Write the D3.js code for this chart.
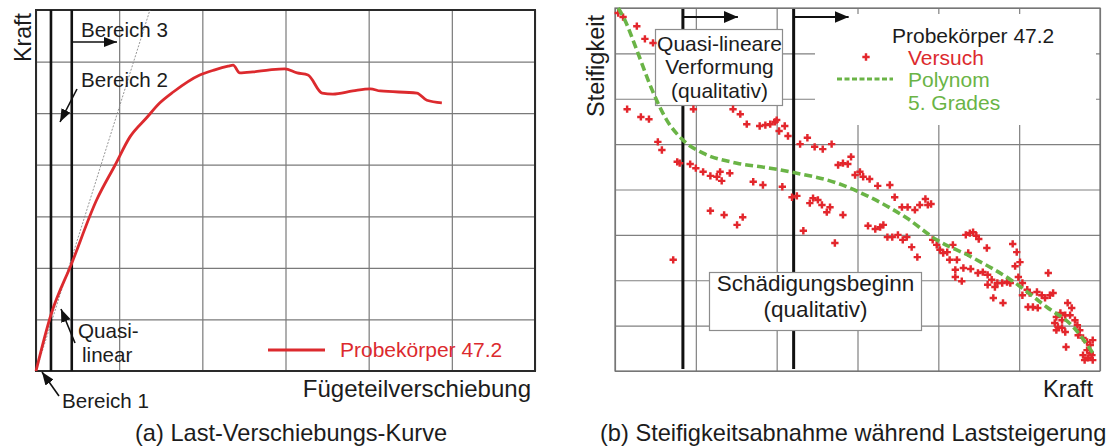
<!DOCTYPE html>
<html>
<head>
<meta charset="utf-8">
<script src="https://cdn.jsdelivr.net/npm/d3@7"></script>
<style>
  html, body { margin: 0; padding: 0; background: #fff; }
  svg { display: block; font-family: "Liberation Sans", Arial, Helvetica, sans-serif; }
</style>
</head>
<body>
<svg id="chart" width="1107" height="448"></svg>
<script>
// ---------- (a) Last-Verschiebungs-Kurve, Probekörper 47.2 (Gittereinheiten) ----------
const lastWeg   = [0, 0.18, 0.43, 0.73, 0.95, 1.13, 1.33, 1.49, 1.65, 1.97, 2.15, 2.31, 2.37, 2.45, 2.61, 2.81, 2.99, 3.14, 3.27, 3.44, 3.57, 3.81, 4.02, 4.14, 4.58, 4.70, 4.88];
const lastKraft = [0, 1.09, 2.09, 3.32, 3.99, 4.54, 4.91, 5.20, 5.41, 5.74, 5.84, 5.91, 5.93, 5.78, 5.80, 5.84, 5.86, 5.78, 5.74, 5.39, 5.37, 5.43, 5.47, 5.43, 5.39, 5.25, 5.20];
// Anfangstangente (quasi-lineares Verhalten)
const tangenteWeg   = [0, 1.37];
const tangenteKraft = [0, 7.0];
// Grenzen der Bereiche 1 | 2 | 3 auf der Verschiebungsachse
const bereichGrenzenA = [0.18, 0.43];

// ---------- (b) Steifigkeit über Kraft ----------
const versuchKraft = [
  0.04,0.10,0.27,0.37,0.47,0.15,0.32,0.42,0.53,0.58,
  0.77,0.80,0.93,1.00,1.09,1.18,1.26,1.30,1.42,1.32,
  0.97,1.46,1.55,1.63,1.79,1.86,1.92,1.98,2.00,2.03,
  2.10,2.14,2.29,2.38,2.47,2.57,2.68,2.76,2.82,2.88,
  2.92,2.97,3.03,3.07,3.15,3.25,3.40,3.46,3.55,3.62,
  3.71,3.77,3.84,3.87,3.91,1.18,1.35,1.51,1.58,1.71,
  1.83,2.07,2.19,2.25,2.33,2.41,2.45,2.51,2.56,2.62,
  2.66,2.82,2.72,0.72,3.13,3.22,3.28,3.32,3.37,3.43,
  3.50,3.56,3.61,3.67,3.74,3.93,3.98,4.02,4.06,4.11,
  4.14,4.18,4.23,4.34,4.39,4.43,4.47,4.50,4.37,4.60,
  4.21,4.31,4.40,4.21,4.29,4.49,4.55,4.61,4.66,4.73,
  4.79,4.85,4.89,4.61,4.70,4.68,4.80,4.92,4.97,5.01,
  4.95,4.99,5.04,5.04,5.10,5.13,5.22,5.28,5.32,5.38,
  5.42,5.36,5.11,5.17,5.23,5.46,5.51,5.60,5.65,5.63,
  5.44,5.48,5.53,5.57,5.46,5.72,5.75,5.73,5.79,5.84,
  5.88,5.58,5.84,5.88,5.79,5.85,5.91,5.81,5.90,5.91,
  5.57,5.69,5.53
];
const versuchSteifigkeit = [
  7.89,7.80,7.60,7.32,7.23,5.77,5.60,5.55,5.05,4.87,
  4.61,4.58,4.56,4.47,4.39,4.30,4.28,4.39,4.36,4.19,
  5.77,5.77,5.66,5.44,5.40,5.42,5.44,5.49,5.53,5.29,
  5.40,5.18,5.00,5.14,4.94,4.89,5.00,4.54,4.58,4.56,
  4.72,4.32,4.39,4.28,4.23,4.08,4.10,3.83,3.61,3.61,
  3.55,3.66,3.79,3.66,3.68,3.53,3.44,3.22,3.39,4.17,
  4.10,4.06,3.83,3.86,3.09,3.70,3.81,3.77,3.66,3.50,
  3.61,3.44,2.82,2.45,3.20,3.13,3.17,3.22,2.95,2.95,
  3.00,2.89,2.95,2.73,2.51,2.89,2.78,2.67,2.60,2.62,
  2.45,2.78,2.45,3.00,3.04,3.06,2.98,2.91,2.60,2.71,
  2.23,2.27,2.25,2.07,1.98,2.16,2.18,2.12,2.01,1.94,
  1.94,1.96,1.94,1.90,1.85,1.61,1.50,2.80,2.62,2.40,
  2.31,2.07,1.94,1.67,1.79,1.72,1.74,1.67,1.61,1.67,
  1.72,2.16,1.41,1.41,1.39,1.19,1.28,1.50,1.39,1.23,
  1.06,0.97,0.95,0.86,0.90,1.01,0.90,0.79,0.73,0.64,
  0.57,0.53,0.46,0.40,0.35,0.29,0.24,0.24,0.35,0.68,
  1.23,1.12,1.12
];
// Ausgleichspolynom 5. Grades
const polyKraft       = [0.04, 0.12, 0.27, 0.46, 0.64, 0.84, 1.09, 1.51, 1.92, 2.25, 2.75, 3.12, 3.61, 3.98, 4.39, 4.92, 5.34, 5.67, 5.91];
const polySteifigkeit = [8.00, 7.74, 7.07, 6.19, 5.53, 5.09, 4.80, 4.58, 4.47, 4.36, 4.14, 3.86, 3.37, 2.89, 2.53, 1.98, 1.41, 0.97, 0.40];
// Grenzen: quasi-lineare Verformung | Schädigungsbeginn
const bereichGrenzenB = [0.84, 2.21];

// ---------- Farben ----------
const ROT = "#dc2a2e", GRUEN = "#6ab446", TEXT = "#1c1c1c";

const svg = d3.select("#chart");
const defs = svg.append("defs");

function pfeilMarker(id, len, wid) {
  defs.append("marker")
    .attr("id", id)
    .attr("viewBox", `0 0 ${len} ${wid}`)
    .attr("refX", len).attr("refY", wid / 2)
    .attr("markerWidth", len).attr("markerHeight", wid)
    .attr("markerUnits", "userSpaceOnUse")
    .attr("orient", "auto")
    .append("path")
    .attr("d", `M0,0 L${len},${wid / 2} L0,${wid} Z`)
    .attr("fill", "#111");
}
pfeilMarker("pfeilA", 13, 10);
pfeilMarker("pfeilB", 14, 12);

function label(g, x, y, s, size, opts = {}) {
  const t = g.append("text")
    .attr("x", x).attr("y", y)
    .attr("font-size", size)
    .attr("fill", opts.fill || TEXT)
    .attr("text-anchor", opts.anchor || "start")
    .text(s);
  if (opts.rotate) {
    t.attr("x", 0).attr("y", 0)
     .attr("transform", `translate(${x},${y}) rotate(${opts.rotate})`);
  }
  return t;
}

function pfeil(g, x1, y1, x2, y2, marker, w) {
  g.append("line")
    .attr("x1", x1).attr("y1", y1).attr("x2", x2).attr("y2", y2)
    .attr("stroke", "#111").attr("stroke-width", w || 1.6)
    .attr("marker-end", `url(#${marker})`);
}

function gitter(g, x, y, nx, ny, farbe) {
  const h = y.range()[0] - y.range()[1];
  const w = x.range()[1] - x.range()[0];
  const gx = g.append("g")
    .attr("transform", `translate(0,${y.range()[0]})`)
    .call(d3.axisBottom(x).ticks(nx).tickSize(-h).tickFormat(""));
  const gy = g.append("g")
    .attr("transform", `translate(${x.range()[0]},0)`)
    .call(d3.axisLeft(y).ticks(ny).tickSize(-w).tickFormat(""));
  [gx, gy].forEach(a => {
    a.select(".domain").remove();
    a.selectAll("line").attr("stroke", farbe).attr("stroke-width", 1.2);
  });
}

// =================== (a) ===================
const gA = svg.append("g");
const xA = d3.scaleLinear().domain([0, 6]).range([36, 535]);
const yA = d3.scaleLinear().domain([0, 7]).range([371, 10]);

gitter(gA, xA, yA, 6, 7, "#7a7a7a");

gA.append("rect")
  .attr("x", xA(0)).attr("y", yA(7))
  .attr("width", xA(6) - xA(0)).attr("height", yA(0) - yA(7))
  .attr("fill", "none").attr("stroke", "#2a2a2a").attr("stroke-width", 2);

// Tangente
gA.append("path")
  .datum(d3.zip(tangenteWeg, tangenteKraft))
  .attr("d", d3.line().x(d => xA(d[0])).y(d => yA(d[1])))
  .attr("stroke", "#8a8a8a").attr("stroke-width", 0.9)
  .attr("stroke-dasharray", "2,1.5").attr("fill", "none");

// Bereichsgrenzen
gA.selectAll("line.grenze")
  .data(bereichGrenzenA).enter().append("line")
  .attr("class", "grenze")
  .attr("x1", d => xA(d)).attr("x2", d => xA(d))
  .attr("y1", yA(7)).attr("y2", yA(0))
  .attr("stroke", "#111").attr("stroke-width", 2.6);

// Messkurve
gA.append("path")
  .datum(d3.zip(lastWeg, lastKraft))
  .attr("d", d3.line().x(d => xA(d[0])).y(d => yA(d[1])).curve(d3.curveMonotoneX))
  .attr("stroke", ROT).attr("stroke-width", 2.8)
  .attr("stroke-linejoin", "round").attr("fill", "none");

// Beschriftungen
label(gA, 31, 37.5, "Kraft", 23.2, { rotate: -90, anchor: "middle" });
label(gA, 81, 36.5, "Bereich 3", 20.6);
pfeil(gA, xA(bereichGrenzenA[1]), 42, 117, 42, "pfeilA", 1.6);
label(gA, 81, 87, "Bereich 2", 20.6);
pfeil(gA, 77, 89, 60, 122, "pfeilA", 1.6);
label(gA, 78, 338, "Quasi-", 20.6);
label(gA, 82, 362, "linear", 20.6);
pfeil(gA, 75, 343, 61, 309, "pfeilA", 1.6);
label(gA, 62, 408, "Bereich 1", 20.6);
pfeil(gA, 59, 396, 42, 372, "pfeilA", 1.6);

// Legende
gA.append("line")
  .attr("x1", 268).attr("x2", 325).attr("y1", 350).attr("y2", 350)
  .attr("stroke", ROT).attr("stroke-width", 2.8);
label(gA, 340, 357, "Probekörper 47.2", 21, { fill: ROT });

label(gA, 531, 397, "Fügeteilverschiebung", 24, { anchor: "end" });
label(gA, 135, 441, "(a) Last-Verschiebungs-Kurve", 23.6);

// =================== (b) ===================
const gB = svg.append("g");
const xB = d3.scaleLinear().domain([0, 6]).range([615, 1100]);
const yB = d3.scaleLinear().domain([0, 8]).range([371, 8]);

gitter(gB, xB, yB, 6, 8, "#808080");
gB.append("rect")
  .attr("x", xB(0)).attr("y", yB(8))
  .attr("width", xB(6) - xB(0)).attr("height", yB(0) - yB(8))
  .attr("fill", "none").attr("stroke", "#707070").attr("stroke-width", 1.2);

// weißer Hintergrund der Legende (verdeckt das Gitter)
gB.append("rect")
  .attr("x", 815).attr("y", 14).attr("width", 281).attr("height", 111)
  .attr("fill", "#fff");

// Grenzen + Pfeile
gB.selectAll("line.grenze")
  .data(bereichGrenzenB).enter().append("line")
  .attr("class", "grenze")
  .attr("x1", d => xB(d)).attr("x2", d => xB(d))
  .attr("y1", yB(8) + 1).attr("y2", yB(0) - 2)
  .attr("stroke", "#111").attr("stroke-width", 3);
bereichGrenzenB.forEach(b => pfeil(gB, xB(b), 17, xB(b) + 55, 17, "pfeilB", 2));

// Textkästen
function kasten(x, y, w, h) {
  gB.append("rect")
    .attr("x", x).attr("y", y).attr("width", w).attr("height", h)
    .attr("fill", "#fff").attr("stroke", "#8c8c8c").attr("stroke-width", 1.2);
}
kasten(655.5, 29.5, 127, 76);
kasten(709.5, 272.5, 212, 58);

// Messpunkte
gB.selectAll("path.punkt")
  .data(d3.zip(versuchKraft, versuchSteifigkeit)).enter().append("path")
  .attr("class", "punkt")
  .attr("d", d3.symbol(d3.symbolCross).size(30))
  .attr("transform", d => `translate(${xB(d[0])},${yB(d[1])})`)
  .attr("fill", "#e3262c");

// Polynom
gB.append("path")
  .datum(d3.zip(polyKraft, polySteifigkeit))
  .attr("d", d3.line().x(d => xB(d[0])).y(d => yB(d[1])).curve(d3.curveMonotoneX))
  .attr("stroke", GRUEN).attr("stroke-width", 3.6)
  .attr("stroke-dasharray", "8,4").attr("fill", "none");

// Texte in den Kästen
label(gB, 719.5, 50.5, "Quasi-lineare", 21, { anchor: "middle" });
label(gB, 719.5, 74, "Verformung", 21, { anchor: "middle" });
label(gB, 719.5, 97.5, "(qualitativ)", 21, { anchor: "middle" });
label(gB, 815.5, 291, "Schädigungsbeginn", 22.5, { anchor: "middle" });
label(gB, 815.5, 316.5, "(qualitativ)", 22.5, { anchor: "middle" });

// Legende
label(gB, 892, 43, "Probekörper 47.2", 21);
gB.append("path")
  .attr("d", d3.symbol(d3.symbolCross).size(30))
  .attr("transform", "translate(866,57)")
  .attr("fill", "#e3262c");
label(gB, 908, 65, "Versuch", 21, { fill: ROT });
gB.append("line")
  .attr("x1", 837).attr("x2", 893).attr("y1", 79).attr("y2", 79)
  .attr("stroke", GRUEN).attr("stroke-width", 3)
  .attr("stroke-dasharray", "5,2.5");
label(gB, 908, 87, "Polynom", 21, { fill: GRUEN });
label(gB, 908, 110, "5. Grades", 21, { fill: GRUEN });

label(gB, 604, 66, "Steifigkeit", 23.5, { rotate: -90, anchor: "middle" });
label(gB, 1093, 397, "Kraft", 23.7, { anchor: "end" });
label(gB, 600, 441, "(b) Steifigkeitsabnahme während Laststeigerung", 23.6);
</script>
</body>
</html>
